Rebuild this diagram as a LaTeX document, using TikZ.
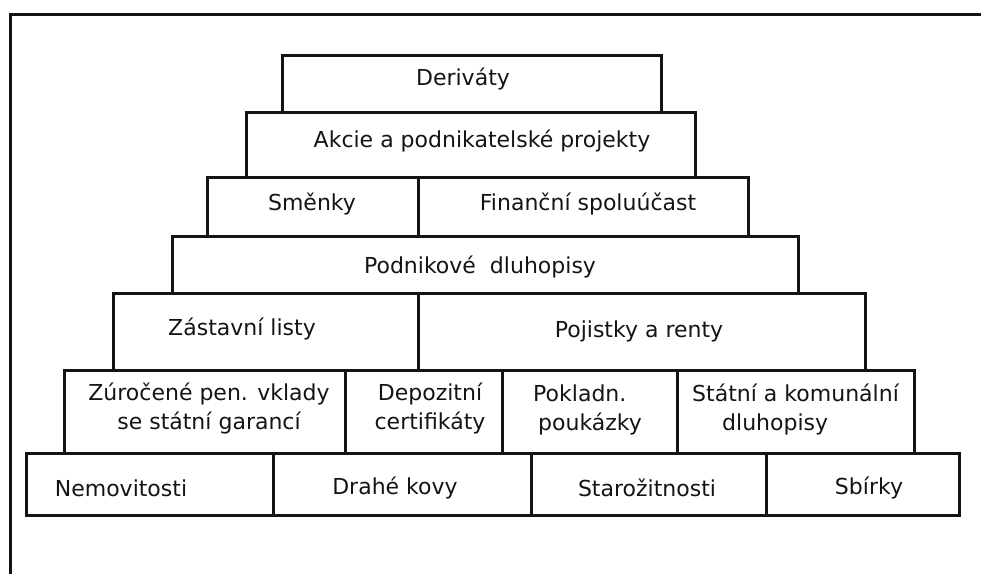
\documentclass[tikz,border=0pt]{standalone}
\usepackage{fontspec}
\setmainfont{DejaVu Sans}
\usetikzlibrary{fit}
\definecolor{ink}{HTML}{141414}
\tikzset{
  cellbox/.style={draw=ink, line width=3pt, inner sep=0pt, fit={#1}},
  lbl/.style={text=ink, font=\fontsize{22}{29}\selectfont, inner sep=0pt, align=center},
  frameline/.style={draw=ink, line width=3pt}
}
\begin{document}
\begin{tikzpicture}[x=1pt,y=-1pt]
\useasboundingbox (0,0) rectangle (981,574);
\coordinate (fA) at (10,574);
\coordinate (fB) at (10,14);
\coordinate (fC) at (981,14);
\draw[frameline] (fA) -- (fB) -- (fC);
% boxes
\node[cellbox={(282,55) (661,112)}] (der) {};
\node[cellbox={(246,112) (695,177)}] (akc) {};
\node[cellbox={(207,177) (418,236)}] (sme) {};
\node[cellbox={(418,177) (748,236)}] (fin) {};
\node[cellbox={(172,236) (798,293)}] (pod) {};
\node[cellbox={(113,293) (418,370)}] (zas) {};
\node[cellbox={(418,293) (865,370)}] (poj) {};
\node[cellbox={(64,370) (345,453)}] (zur) {};
\node[cellbox={(345,370) (502,453)}] (dep) {};
\node[cellbox={(502,370) (677,453)}] (pok) {};
\node[cellbox={(677,370) (914,453)}] (stk) {};
\node[cellbox={(26,453) (273,515)}] (nem) {};
\node[cellbox={(273,453) (531,515)}] (dra) {};
\node[cellbox={(531,453) (766,515)}] (sta) {};
\node[cellbox={(766,453) (959,515)}] (sbi) {};
% labels
\node[lbl] (tder) at (463,79) {Deriváty};
\node[lbl] (takc) at (482,141) {Akcie a podnikatelské projekty};
\node[lbl] (tsme) at (312,204) {Směnky};
\node[lbl] (tfin) at (588,204) {Finanční spoluúčast};
\node[lbl] (tpod) at (480,267) {Podnikové\ \ dluhopisy};
\node[lbl] (tzas) at (242,329) {Zástavní listy};
\node[lbl] (tpoj) at (639,331) {Pojistky a renty};
\node[lbl] (tzur) at (209,408) {Zúročené pen. vklady\\se státní garancí};
\node[lbl] (tdep) at (430,408) {Depozitní\\certifikáty};
\node[lbl, anchor=base west] (tpok1) at (533,401) {Pokladn.};
\node[lbl, anchor=base west] (tpok2) at (538,430) {poukázky};
\node[lbl, anchor=base west] (tstk1) at (692,401) {Státní a komunální};
\node[lbl, anchor=base west] (tstk2) at (722,430) {dluhopisy};
\node[lbl] (tnem) at (121,488) {Nemovitosti};
\node[lbl] (tdra) at (395,488) {Drahé kovy};
\node[lbl] (tsta) at (647,488) {Starožitnosti};
\node[lbl] (tsbi) at (869,488) {Sbírky};
\end{tikzpicture}
\end{document}
